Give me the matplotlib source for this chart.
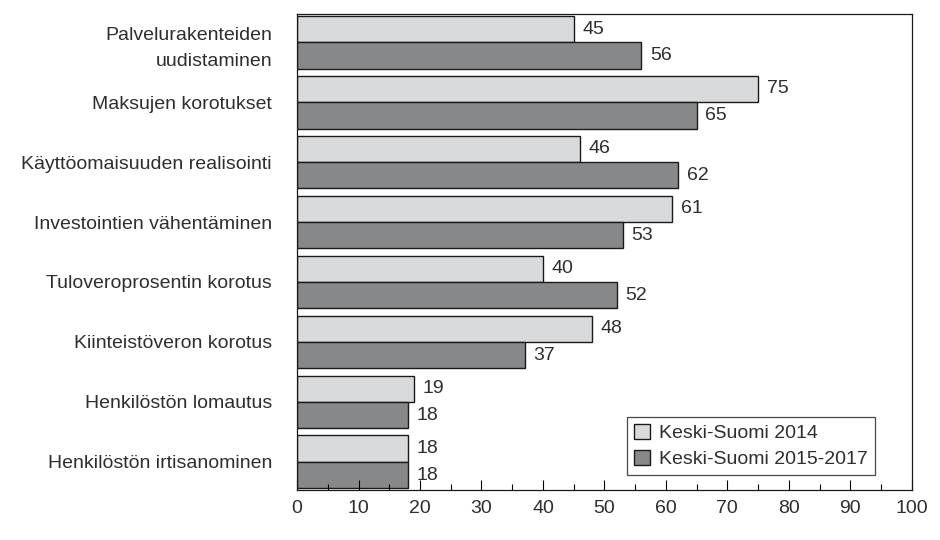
import numpy as np
import matplotlib.pyplot as plt
from matplotlib.ticker import MultipleLocator

# ---- data ----
categories = [
    "Palvelurakenteiden\nuudistaminen",
    "Maksujen korotukset",
    "Käyttöomaisuuden realisointi",
    "Investointien vähentäminen",
    "Tuloveroprosentin korotus",
    "Kiinteistöveron korotus",
    "Henkilöstön lomautus",
    "Henkilöstön irtisanominen",
]
values_2014 = [45, 75, 46, 61, 40, 48, 19, 18]
values_2015_2017 = [56, 65, 62, 53, 52, 37, 18, 18]
series_names = ["Keski-Suomi 2014", "Keski-Suomi 2015-2017"]

plt.rcParams['font.family'] = ['Liberation Sans', 'DejaVu Sans']
TEXT = '#2e2e2e'
LIGHT = '#d9dadc'
DARK = '#87888a'
FS = 14

fig = plt.figure(figsize=(9.4, 5.4), dpi=100)
ax = fig.add_axes([0.316, 0.0926, 0.654, 0.8814])

y = np.arange(len(categories))
h = 0.44
b1 = ax.barh(y - h / 2, values_2014, height=h, color=LIGHT, edgecolor='#1a1a1a',
             linewidth=1.0, label=series_names[0])
b2 = ax.barh(y + h / 2, values_2015_2017, height=h, color=DARK, edgecolor='#1a1a1a',
             linewidth=1.0, label=series_names[1])

for bars, vals in ((b1, values_2014), (b2, values_2015_2017)):
    for bar, v in zip(bars, vals):
        ax.text(v + 1.4, bar.get_y() + bar.get_height() / 2, str(v),
                va='center', ha='left', fontsize=FS, color=TEXT)

ax.set_xlim(0, 100)
ax.set_ylim(len(categories) - 1 + 0.47, -0.47)
ax.set_yticks(y)
ax.set_yticklabels(categories, fontsize=FS, color=TEXT, ha='right',
                   multialignment='right', linespacing=1.65)
ax.tick_params(axis='y', length=0, pad=18)

ax.xaxis.set_major_locator(MultipleLocator(10))
ax.xaxis.set_minor_locator(MultipleLocator(5))
ax.tick_params(axis='x', which='major', direction='in', length=7, width=0.8,
               labelsize=FS, labelcolor=TEXT, pad=7)
ax.tick_params(axis='x', which='minor', direction='in', length=4, width=0.8)

for s in ax.spines.values():
    s.set_linewidth(0.9)
    s.set_color('#1a1a1a')

leg = ax.legend(loc='lower right', bbox_to_anchor=(0.94, 0.032), borderaxespad=0,
                fontsize=FS, frameon=True, fancybox=False, edgecolor='#1a1a1a',
                handlelength=0.8, handleheight=0.8, handletextpad=0.5,
                borderpad=0.35, labelspacing=0.4)
leg.get_frame().set_linewidth(0.9)
for t in leg.get_texts():
    t.set_color(TEXT)

fig.savefig('out.png', dpi=100)
